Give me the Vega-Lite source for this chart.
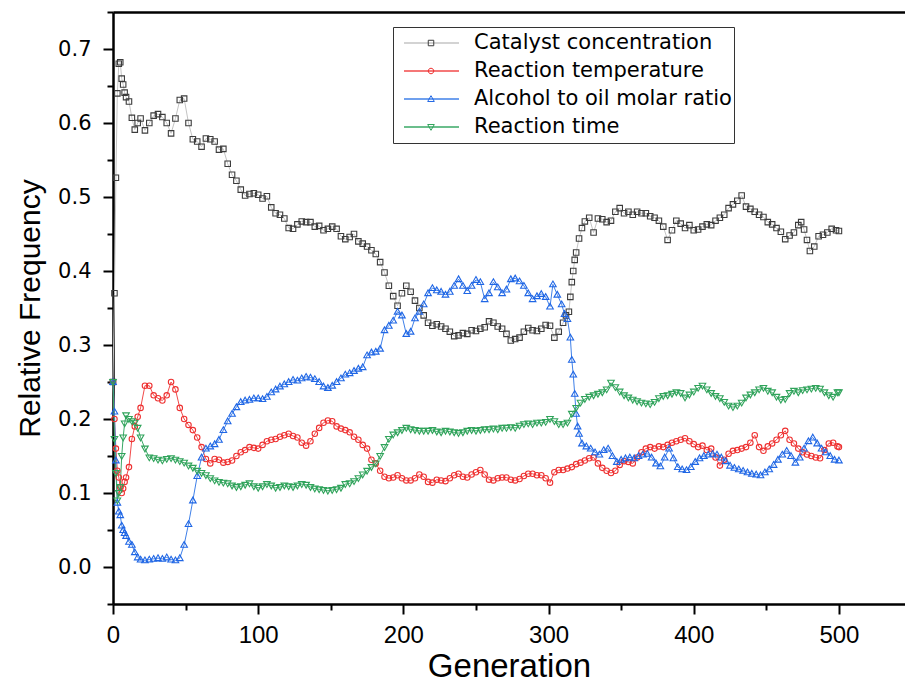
{
"$schema":"https://vega.github.io/schema/vega-lite/v6.json",
"width":792,"height":592,
"autosize":{"type":"none"},
"padding":{"left":113,"top":12,"right":0,"bottom":82},
"background":"white",
"config":{"view":{"stroke":null},"font":"Liberation Sans"},
"data":{"values":[
{"s":"C","g":0,"v":0.25},{"s":"C","g":1,"v":0.37},{"s":"C","g":2,"v":0.526},{"s":"C","g":3,"v":0.64},{"s":"C","g":4,"v":0.68},{"s":"C","g":5,"v":0.682},{"s":"C","g":6,"v":0.66},{"s":"C","g":7,"v":0.652},{"s":"C","g":8,"v":0.641},{"s":"C","g":9,"v":0.635},{"s":"C","g":11,"v":0.629},{"s":"C","g":13,"v":0.607},{"s":"C","g":15,"v":0.591},{"s":"C","g":17,"v":0.6},{"s":"C","g":19,"v":0.606},{"s":"C","g":22,"v":0.59},{"s":"C","g":25,"v":0.6},{"s":"C","g":28,"v":0.61},{"s":"C","g":31,"v":0.612},{"s":"C","g":34,"v":0.608},{"s":"C","g":37,"v":0.6},{"s":"C","g":40,"v":0.586},{"s":"C","g":43,"v":0.606},{"s":"C","g":46,"v":0.631},{"s":"C","g":49,"v":0.633},{"s":"C","g":52,"v":0.6},{"s":"C","g":55,"v":0.578},{"s":"C","g":58,"v":0.575},{"s":"C","g":61,"v":0.568},{"s":"C","g":64,"v":0.579},{"s":"C","g":67,"v":0.578},{"s":"C","g":70,"v":0.575},{"s":"C","g":73,"v":0.564},{"s":"C","g":76,"v":0.565},{"s":"C","g":79,"v":0.545},{"s":"C","g":82,"v":0.53},{"s":"C","g":85,"v":0.522},{"s":"C","g":88,"v":0.51},{"s":"C","g":91,"v":0.502},{"s":"C","g":94,"v":0.504},{"s":"C","g":97,"v":0.505},{"s":"C","g":100,"v":0.503},{"s":"C","g":103,"v":0.498},{"s":"C","g":106,"v":0.501},{"s":"C","g":109,"v":0.486},{"s":"C","g":112,"v":0.478},{"s":"C","g":115,"v":0.476},{"s":"C","g":118,"v":0.471},{"s":"C","g":121,"v":0.458},{"s":"C","g":124,"v":0.457},{"s":"C","g":127,"v":0.463},{"s":"C","g":130,"v":0.467},{"s":"C","g":133,"v":0.466},{"s":"C","g":136,"v":0.466},{"s":"C","g":139,"v":0.46},{"s":"C","g":142,"v":0.461},{"s":"C","g":145,"v":0.455},{"s":"C","g":148,"v":0.457},{"s":"C","g":151,"v":0.46},{"s":"C","g":154,"v":0.457},{"s":"C","g":157,"v":0.447},{"s":"C","g":160,"v":0.443},{"s":"C","g":163,"v":0.446},{"s":"C","g":166,"v":0.45},{"s":"C","g":169,"v":0.44},{"s":"C","g":172,"v":0.437},{"s":"C","g":175,"v":0.433},{"s":"C","g":178,"v":0.428},{"s":"C","g":181,"v":0.423},{"s":"C","g":184,"v":0.412},{"s":"C","g":187,"v":0.398},{"s":"C","g":190,"v":0.38},{"s":"C","g":193,"v":0.366},{"s":"C","g":196,"v":0.353},{"s":"C","g":199,"v":0.37},{"s":"C","g":202,"v":0.38},{"s":"C","g":205,"v":0.372},{"s":"C","g":208,"v":0.36},{"s":"C","g":211,"v":0.35},{"s":"C","g":214,"v":0.34},{"s":"C","g":217,"v":0.33},{"s":"C","g":220,"v":0.326},{"s":"C","g":223,"v":0.328},{"s":"C","g":226,"v":0.325},{"s":"C","g":229,"v":0.322},{"s":"C","g":232,"v":0.318},{"s":"C","g":235,"v":0.312},{"s":"C","g":238,"v":0.313},{"s":"C","g":241,"v":0.316},{"s":"C","g":244,"v":0.315},{"s":"C","g":247,"v":0.32},{"s":"C","g":250,"v":0.319},{"s":"C","g":253,"v":0.322},{"s":"C","g":256,"v":0.324},{"s":"C","g":259,"v":0.332},{"s":"C","g":262,"v":0.33},{"s":"C","g":265,"v":0.325},{"s":"C","g":268,"v":0.322},{"s":"C","g":271,"v":0.315},{"s":"C","g":274,"v":0.306},{"s":"C","g":277,"v":0.308},{"s":"C","g":280,"v":0.31},{"s":"C","g":283,"v":0.318},{"s":"C","g":286,"v":0.323},{"s":"C","g":289,"v":0.32},{"s":"C","g":292,"v":0.319},{"s":"C","g":295,"v":0.322},{"s":"C","g":298,"v":0.327},{"s":"C","g":301,"v":0.326},{"s":"C","g":304,"v":0.31},{"s":"C","g":307,"v":0.318},{"s":"C","g":310,"v":0.33},{"s":"C","g":312,"v":0.34},{"s":"C","g":314,"v":0.345},{"s":"C","g":315,"v":0.365},{"s":"C","g":316,"v":0.385},{"s":"C","g":317,"v":0.4},{"s":"C","g":318,"v":0.415},{"s":"C","g":319,"v":0.425},{"s":"C","g":321,"v":0.444},{"s":"C","g":323,"v":0.458},{"s":"C","g":325,"v":0.467},{"s":"C","g":328,"v":0.472},{"s":"C","g":331,"v":0.452},{"s":"C","g":334,"v":0.471},{"s":"C","g":337,"v":0.47},{"s":"C","g":340,"v":0.466},{"s":"C","g":343,"v":0.468},{"s":"C","g":346,"v":0.48},{"s":"C","g":349,"v":0.485},{"s":"C","g":352,"v":0.478},{"s":"C","g":355,"v":0.48},{"s":"C","g":358,"v":0.476},{"s":"C","g":361,"v":0.48},{"s":"C","g":364,"v":0.478},{"s":"C","g":367,"v":0.478},{"s":"C","g":370,"v":0.474},{"s":"C","g":373,"v":0.472},{"s":"C","g":376,"v":0.468},{"s":"C","g":379,"v":0.46},{"s":"C","g":382,"v":0.442},{"s":"C","g":385,"v":0.455},{"s":"C","g":388,"v":0.468},{"s":"C","g":391,"v":0.464},{"s":"C","g":394,"v":0.458},{"s":"C","g":397,"v":0.462},{"s":"C","g":400,"v":0.455},{"s":"C","g":403,"v":0.456},{"s":"C","g":406,"v":0.46},{"s":"C","g":409,"v":0.463},{"s":"C","g":412,"v":0.462},{"s":"C","g":415,"v":0.468},{"s":"C","g":418,"v":0.472},{"s":"C","g":421,"v":0.476},{"s":"C","g":424,"v":0.485},{"s":"C","g":427,"v":0.49},{"s":"C","g":430,"v":0.495},{"s":"C","g":433,"v":0.502},{"s":"C","g":436,"v":0.487},{"s":"C","g":439,"v":0.484},{"s":"C","g":442,"v":0.48},{"s":"C","g":445,"v":0.476},{"s":"C","g":448,"v":0.473},{"s":"C","g":451,"v":0.466},{"s":"C","g":454,"v":0.463},{"s":"C","g":457,"v":0.458},{"s":"C","g":460,"v":0.453},{"s":"C","g":463,"v":0.443},{"s":"C","g":466,"v":0.448},{"s":"C","g":469,"v":0.452},{"s":"C","g":472,"v":0.462},{"s":"C","g":474,"v":0.466},{"s":"C","g":476,"v":0.456},{"s":"C","g":478,"v":0.442},{"s":"C","g":480,"v":0.427},{"s":"C","g":483,"v":0.433},{"s":"C","g":486,"v":0.447},{"s":"C","g":489,"v":0.449},{"s":"C","g":492,"v":0.452},{"s":"C","g":495,"v":0.457},{"s":"C","g":498,"v":0.455},{"s":"C","g":500,"v":0.454},
{"s":"R","g":0,"v":0.25},{"s":"R","g":1,"v":0.2},{"s":"R","g":2,"v":0.16},{"s":"R","g":3,"v":0.13},{"s":"R","g":4,"v":0.121},{"s":"R","g":5,"v":0.108},{"s":"R","g":6,"v":0.1},{"s":"R","g":7,"v":0.106},{"s":"R","g":8,"v":0.115},{"s":"R","g":9,"v":0.121},{"s":"R","g":11,"v":0.135},{"s":"R","g":13,"v":0.173},{"s":"R","g":15,"v":0.19},{"s":"R","g":17,"v":0.203},{"s":"R","g":19,"v":0.215},{"s":"R","g":22,"v":0.245},{"s":"R","g":25,"v":0.245},{"s":"R","g":28,"v":0.232},{"s":"R","g":31,"v":0.228},{"s":"R","g":34,"v":0.225},{"s":"R","g":37,"v":0.232},{"s":"R","g":40,"v":0.25},{"s":"R","g":43,"v":0.24},{"s":"R","g":46,"v":0.215},{"s":"R","g":49,"v":0.2},{"s":"R","g":52,"v":0.192},{"s":"R","g":55,"v":0.185},{"s":"R","g":58,"v":0.175},{"s":"R","g":61,"v":0.162},{"s":"R","g":64,"v":0.146},{"s":"R","g":67,"v":0.14},{"s":"R","g":70,"v":0.146},{"s":"R","g":73,"v":0.145},{"s":"R","g":76,"v":0.141},{"s":"R","g":79,"v":0.142},{"s":"R","g":82,"v":0.144},{"s":"R","g":85,"v":0.15},{"s":"R","g":88,"v":0.155},{"s":"R","g":91,"v":0.158},{"s":"R","g":94,"v":0.162},{"s":"R","g":97,"v":0.161},{"s":"R","g":100,"v":0.16},{"s":"R","g":103,"v":0.165},{"s":"R","g":106,"v":0.17},{"s":"R","g":109,"v":0.172},{"s":"R","g":112,"v":0.173},{"s":"R","g":115,"v":0.176},{"s":"R","g":118,"v":0.178},{"s":"R","g":121,"v":0.18},{"s":"R","g":124,"v":0.177},{"s":"R","g":127,"v":0.175},{"s":"R","g":130,"v":0.168},{"s":"R","g":133,"v":0.164},{"s":"R","g":136,"v":0.17},{"s":"R","g":139,"v":0.18},{"s":"R","g":142,"v":0.188},{"s":"R","g":145,"v":0.195},{"s":"R","g":148,"v":0.198},{"s":"R","g":151,"v":0.197},{"s":"R","g":154,"v":0.19},{"s":"R","g":157,"v":0.187},{"s":"R","g":160,"v":0.185},{"s":"R","g":163,"v":0.182},{"s":"R","g":166,"v":0.176},{"s":"R","g":169,"v":0.172},{"s":"R","g":172,"v":0.165},{"s":"R","g":175,"v":0.16},{"s":"R","g":178,"v":0.145},{"s":"R","g":181,"v":0.14},{"s":"R","g":184,"v":0.13},{"s":"R","g":187,"v":0.122},{"s":"R","g":190,"v":0.12},{"s":"R","g":193,"v":0.121},{"s":"R","g":196,"v":0.124},{"s":"R","g":199,"v":0.12},{"s":"R","g":202,"v":0.117},{"s":"R","g":205,"v":0.117},{"s":"R","g":208,"v":0.12},{"s":"R","g":211,"v":0.125},{"s":"R","g":214,"v":0.122},{"s":"R","g":217,"v":0.115},{"s":"R","g":220,"v":0.114},{"s":"R","g":223,"v":0.118},{"s":"R","g":226,"v":0.117},{"s":"R","g":229,"v":0.116},{"s":"R","g":232,"v":0.12},{"s":"R","g":235,"v":0.124},{"s":"R","g":238,"v":0.126},{"s":"R","g":241,"v":0.122},{"s":"R","g":244,"v":0.121},{"s":"R","g":247,"v":0.125},{"s":"R","g":250,"v":0.128},{"s":"R","g":253,"v":0.131},{"s":"R","g":256,"v":0.125},{"s":"R","g":259,"v":0.118},{"s":"R","g":262,"v":0.117},{"s":"R","g":265,"v":0.12},{"s":"R","g":268,"v":0.121},{"s":"R","g":271,"v":0.121},{"s":"R","g":274,"v":0.118},{"s":"R","g":277,"v":0.117},{"s":"R","g":280,"v":0.119},{"s":"R","g":283,"v":0.123},{"s":"R","g":286,"v":0.126},{"s":"R","g":289,"v":0.126},{"s":"R","g":292,"v":0.124},{"s":"R","g":295,"v":0.124},{"s":"R","g":298,"v":0.12},{"s":"R","g":301,"v":0.114},{"s":"R","g":304,"v":0.128},{"s":"R","g":307,"v":0.131},{"s":"R","g":310,"v":0.131},{"s":"R","g":313,"v":0.133},{"s":"R","g":316,"v":0.135},{"s":"R","g":319,"v":0.139},{"s":"R","g":322,"v":0.141},{"s":"R","g":325,"v":0.144},{"s":"R","g":328,"v":0.147},{"s":"R","g":331,"v":0.148},{"s":"R","g":334,"v":0.14},{"s":"R","g":337,"v":0.134},{"s":"R","g":340,"v":0.13},{"s":"R","g":343,"v":0.127},{"s":"R","g":346,"v":0.13},{"s":"R","g":349,"v":0.138},{"s":"R","g":352,"v":0.143},{"s":"R","g":355,"v":0.142},{"s":"R","g":358,"v":0.14},{"s":"R","g":361,"v":0.148},{"s":"R","g":364,"v":0.155},{"s":"R","g":367,"v":0.16},{"s":"R","g":370,"v":0.162},{"s":"R","g":373,"v":0.16},{"s":"R","g":376,"v":0.163},{"s":"R","g":379,"v":0.162},{"s":"R","g":382,"v":0.165},{"s":"R","g":385,"v":0.168},{"s":"R","g":388,"v":0.17},{"s":"R","g":391,"v":0.172},{"s":"R","g":394,"v":0.174},{"s":"R","g":397,"v":0.17},{"s":"R","g":400,"v":0.166},{"s":"R","g":403,"v":0.162},{"s":"R","g":406,"v":0.164},{"s":"R","g":409,"v":0.158},{"s":"R","g":412,"v":0.16},{"s":"R","g":415,"v":0.148},{"s":"R","g":418,"v":0.137},{"s":"R","g":421,"v":0.145},{"s":"R","g":424,"v":0.153},{"s":"R","g":427,"v":0.157},{"s":"R","g":430,"v":0.158},{"s":"R","g":433,"v":0.16},{"s":"R","g":436,"v":0.162},{"s":"R","g":439,"v":0.168},{"s":"R","g":442,"v":0.178},{"s":"R","g":445,"v":0.162},{"s":"R","g":448,"v":0.157},{"s":"R","g":451,"v":0.163},{"s":"R","g":454,"v":0.167},{"s":"R","g":457,"v":0.172},{"s":"R","g":460,"v":0.178},{"s":"R","g":463,"v":0.184},{"s":"R","g":466,"v":0.172},{"s":"R","g":469,"v":0.167},{"s":"R","g":472,"v":0.16},{"s":"R","g":475,"v":0.155},{"s":"R","g":478,"v":0.152},{"s":"R","g":481,"v":0.15},{"s":"R","g":484,"v":0.148},{"s":"R","g":487,"v":0.147},{"s":"R","g":490,"v":0.158},{"s":"R","g":493,"v":0.167},{"s":"R","g":496,"v":0.168},{"s":"R","g":499,"v":0.163},{"s":"R","g":500,"v":0.162},
{"s":"A","g":0,"v":0.25},{"s":"A","g":1,"v":0.21},{"s":"A","g":2,"v":0.144},{"s":"A","g":3,"v":0.087},{"s":"A","g":4,"v":0.075},{"s":"A","g":5,"v":0.07},{"s":"A","g":6,"v":0.056},{"s":"A","g":7,"v":0.05},{"s":"A","g":8,"v":0.046},{"s":"A","g":9,"v":0.042},{"s":"A","g":11,"v":0.034},{"s":"A","g":13,"v":0.03},{"s":"A","g":15,"v":0.02},{"s":"A","g":17,"v":0.013},{"s":"A","g":19,"v":0.01},{"s":"A","g":22,"v":0.009},{"s":"A","g":25,"v":0.01},{"s":"A","g":28,"v":0.011},{"s":"A","g":31,"v":0.012},{"s":"A","g":34,"v":0.011},{"s":"A","g":37,"v":0.013},{"s":"A","g":40,"v":0.01},{"s":"A","g":43,"v":0.009},{"s":"A","g":46,"v":0.012},{"s":"A","g":49,"v":0.03},{"s":"A","g":52,"v":0.058},{"s":"A","g":55,"v":0.09},{"s":"A","g":58,"v":0.123},{"s":"A","g":61,"v":0.148},{"s":"A","g":64,"v":0.16},{"s":"A","g":67,"v":0.163},{"s":"A","g":70,"v":0.166},{"s":"A","g":73,"v":0.172},{"s":"A","g":76,"v":0.185},{"s":"A","g":79,"v":0.197},{"s":"A","g":82,"v":0.207},{"s":"A","g":85,"v":0.216},{"s":"A","g":88,"v":0.223},{"s":"A","g":91,"v":0.225},{"s":"A","g":94,"v":0.226},{"s":"A","g":97,"v":0.228},{"s":"A","g":100,"v":0.228},{"s":"A","g":103,"v":0.227},{"s":"A","g":106,"v":0.23},{"s":"A","g":109,"v":0.236},{"s":"A","g":112,"v":0.24},{"s":"A","g":115,"v":0.244},{"s":"A","g":118,"v":0.247},{"s":"A","g":121,"v":0.25},{"s":"A","g":124,"v":0.253},{"s":"A","g":127,"v":0.252},{"s":"A","g":130,"v":0.255},{"s":"A","g":133,"v":0.257},{"s":"A","g":136,"v":0.256},{"s":"A","g":139,"v":0.254},{"s":"A","g":142,"v":0.25},{"s":"A","g":145,"v":0.244},{"s":"A","g":148,"v":0.242},{"s":"A","g":151,"v":0.245},{"s":"A","g":154,"v":0.25},{"s":"A","g":157,"v":0.255},{"s":"A","g":160,"v":0.26},{"s":"A","g":163,"v":0.262},{"s":"A","g":166,"v":0.265},{"s":"A","g":169,"v":0.268},{"s":"A","g":172,"v":0.27},{"s":"A","g":175,"v":0.286},{"s":"A","g":178,"v":0.29},{"s":"A","g":181,"v":0.291},{"s":"A","g":184,"v":0.295},{"s":"A","g":187,"v":0.32},{"s":"A","g":190,"v":0.326},{"s":"A","g":193,"v":0.333},{"s":"A","g":196,"v":0.345},{"s":"A","g":199,"v":0.34},{"s":"A","g":202,"v":0.315},{"s":"A","g":205,"v":0.318},{"s":"A","g":208,"v":0.336},{"s":"A","g":211,"v":0.345},{"s":"A","g":214,"v":0.355},{"s":"A","g":217,"v":0.37},{"s":"A","g":220,"v":0.377},{"s":"A","g":223,"v":0.374},{"s":"A","g":226,"v":0.372},{"s":"A","g":229,"v":0.368},{"s":"A","g":232,"v":0.372},{"s":"A","g":235,"v":0.38},{"s":"A","g":238,"v":0.389},{"s":"A","g":241,"v":0.38},{"s":"A","g":244,"v":0.373},{"s":"A","g":247,"v":0.38},{"s":"A","g":250,"v":0.388},{"s":"A","g":253,"v":0.385},{"s":"A","g":256,"v":0.362},{"s":"A","g":259,"v":0.37},{"s":"A","g":262,"v":0.385},{"s":"A","g":265,"v":0.378},{"s":"A","g":268,"v":0.37},{"s":"A","g":271,"v":0.375},{"s":"A","g":274,"v":0.389},{"s":"A","g":277,"v":0.39},{"s":"A","g":280,"v":0.386},{"s":"A","g":283,"v":0.38},{"s":"A","g":286,"v":0.37},{"s":"A","g":289,"v":0.362},{"s":"A","g":292,"v":0.366},{"s":"A","g":295,"v":0.369},{"s":"A","g":298,"v":0.365},{"s":"A","g":301,"v":0.352},{"s":"A","g":303,"v":0.382},{"s":"A","g":306,"v":0.368},{"s":"A","g":309,"v":0.355},{"s":"A","g":311,"v":0.342},{"s":"A","g":313,"v":0.335},{"s":"A","g":315,"v":0.31},{"s":"A","g":316,"v":0.28},{"s":"A","g":317,"v":0.26},{"s":"A","g":318,"v":0.234},{"s":"A","g":319,"v":0.207},{"s":"A","g":320,"v":0.19},{"s":"A","g":321,"v":0.18},{"s":"A","g":323,"v":0.167},{"s":"A","g":326,"v":0.163},{"s":"A","g":329,"v":0.16},{"s":"A","g":332,"v":0.155},{"s":"A","g":335,"v":0.152},{"s":"A","g":338,"v":0.158},{"s":"A","g":341,"v":0.16},{"s":"A","g":344,"v":0.15},{"s":"A","g":347,"v":0.142},{"s":"A","g":350,"v":0.145},{"s":"A","g":353,"v":0.147},{"s":"A","g":356,"v":0.148},{"s":"A","g":359,"v":0.147},{"s":"A","g":362,"v":0.15},{"s":"A","g":365,"v":0.152},{"s":"A","g":368,"v":0.153},{"s":"A","g":371,"v":0.148},{"s":"A","g":374,"v":0.14},{"s":"A","g":377,"v":0.136},{"s":"A","g":380,"v":0.148},{"s":"A","g":383,"v":0.16},{"s":"A","g":386,"v":0.147},{"s":"A","g":389,"v":0.135},{"s":"A","g":392,"v":0.132},{"s":"A","g":395,"v":0.131},{"s":"A","g":398,"v":0.135},{"s":"A","g":401,"v":0.142},{"s":"A","g":404,"v":0.147},{"s":"A","g":407,"v":0.15},{"s":"A","g":410,"v":0.152},{"s":"A","g":413,"v":0.153},{"s":"A","g":416,"v":0.152},{"s":"A","g":419,"v":0.148},{"s":"A","g":422,"v":0.143},{"s":"A","g":425,"v":0.137},{"s":"A","g":428,"v":0.134},{"s":"A","g":431,"v":0.132},{"s":"A","g":434,"v":0.13},{"s":"A","g":437,"v":0.128},{"s":"A","g":440,"v":0.126},{"s":"A","g":443,"v":0.125},{"s":"A","g":446,"v":0.124},{"s":"A","g":449,"v":0.128},{"s":"A","g":452,"v":0.132},{"s":"A","g":455,"v":0.138},{"s":"A","g":458,"v":0.145},{"s":"A","g":461,"v":0.152},{"s":"A","g":464,"v":0.157},{"s":"A","g":467,"v":0.15},{"s":"A","g":470,"v":0.141},{"s":"A","g":473,"v":0.148},{"s":"A","g":476,"v":0.16},{"s":"A","g":479,"v":0.17},{"s":"A","g":482,"v":0.175},{"s":"A","g":485,"v":0.167},{"s":"A","g":488,"v":0.16},{"s":"A","g":491,"v":0.155},{"s":"A","g":494,"v":0.15},{"s":"A","g":497,"v":0.145},{"s":"A","g":500,"v":0.144},
{"s":"T","g":0,"v":0.25},{"s":"T","g":1,"v":0.173},{"s":"T","g":2,"v":0.127},{"s":"T","g":3,"v":0.09},{"s":"T","g":4,"v":0.1},{"s":"T","g":5,"v":0.108},{"s":"T","g":6,"v":0.15},{"s":"T","g":7,"v":0.175},{"s":"T","g":8,"v":0.194},{"s":"T","g":9,"v":0.205},{"s":"T","g":11,"v":0.2},{"s":"T","g":13,"v":0.197},{"s":"T","g":15,"v":0.195},{"s":"T","g":17,"v":0.188},{"s":"T","g":19,"v":0.175},{"s":"T","g":22,"v":0.16},{"s":"T","g":25,"v":0.148},{"s":"T","g":28,"v":0.147},{"s":"T","g":31,"v":0.145},{"s":"T","g":34,"v":0.144},{"s":"T","g":37,"v":0.146},{"s":"T","g":40,"v":0.147},{"s":"T","g":43,"v":0.145},{"s":"T","g":46,"v":0.143},{"s":"T","g":49,"v":0.141},{"s":"T","g":52,"v":0.137},{"s":"T","g":55,"v":0.134},{"s":"T","g":58,"v":0.13},{"s":"T","g":61,"v":0.127},{"s":"T","g":64,"v":0.124},{"s":"T","g":67,"v":0.12},{"s":"T","g":70,"v":0.117},{"s":"T","g":73,"v":0.115},{"s":"T","g":76,"v":0.114},{"s":"T","g":79,"v":0.113},{"s":"T","g":82,"v":0.11},{"s":"T","g":85,"v":0.108},{"s":"T","g":88,"v":0.109},{"s":"T","g":91,"v":0.111},{"s":"T","g":94,"v":0.113},{"s":"T","g":97,"v":0.109},{"s":"T","g":100,"v":0.107},{"s":"T","g":103,"v":0.109},{"s":"T","g":106,"v":0.112},{"s":"T","g":109,"v":0.11},{"s":"T","g":112,"v":0.107},{"s":"T","g":115,"v":0.108},{"s":"T","g":118,"v":0.11},{"s":"T","g":121,"v":0.109},{"s":"T","g":124,"v":0.108},{"s":"T","g":127,"v":0.11},{"s":"T","g":130,"v":0.112},{"s":"T","g":133,"v":0.111},{"s":"T","g":136,"v":0.108},{"s":"T","g":139,"v":0.106},{"s":"T","g":142,"v":0.105},{"s":"T","g":145,"v":0.104},{"s":"T","g":148,"v":0.103},{"s":"T","g":151,"v":0.104},{"s":"T","g":154,"v":0.105},{"s":"T","g":157,"v":0.107},{"s":"T","g":160,"v":0.112},{"s":"T","g":163,"v":0.113},{"s":"T","g":166,"v":0.116},{"s":"T","g":169,"v":0.12},{"s":"T","g":172,"v":0.125},{"s":"T","g":175,"v":0.13},{"s":"T","g":178,"v":0.135},{"s":"T","g":181,"v":0.14},{"s":"T","g":184,"v":0.15},{"s":"T","g":187,"v":0.162},{"s":"T","g":190,"v":0.173},{"s":"T","g":193,"v":0.179},{"s":"T","g":196,"v":0.182},{"s":"T","g":199,"v":0.185},{"s":"T","g":202,"v":0.188},{"s":"T","g":205,"v":0.186},{"s":"T","g":208,"v":0.185},{"s":"T","g":211,"v":0.184},{"s":"T","g":214,"v":0.184},{"s":"T","g":217,"v":0.184},{"s":"T","g":220,"v":0.185},{"s":"T","g":223,"v":0.183},{"s":"T","g":226,"v":0.182},{"s":"T","g":229,"v":0.184},{"s":"T","g":232,"v":0.183},{"s":"T","g":235,"v":0.182},{"s":"T","g":238,"v":0.181},{"s":"T","g":241,"v":0.182},{"s":"T","g":244,"v":0.184},{"s":"T","g":247,"v":0.185},{"s":"T","g":250,"v":0.184},{"s":"T","g":253,"v":0.185},{"s":"T","g":256,"v":0.186},{"s":"T","g":259,"v":0.186},{"s":"T","g":262,"v":0.187},{"s":"T","g":265,"v":0.186},{"s":"T","g":268,"v":0.188},{"s":"T","g":271,"v":0.188},{"s":"T","g":274,"v":0.189},{"s":"T","g":277,"v":0.188},{"s":"T","g":280,"v":0.191},{"s":"T","g":283,"v":0.193},{"s":"T","g":286,"v":0.194},{"s":"T","g":289,"v":0.193},{"s":"T","g":292,"v":0.195},{"s":"T","g":295,"v":0.195},{"s":"T","g":298,"v":0.196},{"s":"T","g":301,"v":0.2},{"s":"T","g":304,"v":0.197},{"s":"T","g":307,"v":0.193},{"s":"T","g":310,"v":0.193},{"s":"T","g":313,"v":0.195},{"s":"T","g":316,"v":0.207},{"s":"T","g":319,"v":0.215},{"s":"T","g":322,"v":0.222},{"s":"T","g":325,"v":0.227},{"s":"T","g":328,"v":0.23},{"s":"T","g":331,"v":0.232},{"s":"T","g":334,"v":0.234},{"s":"T","g":337,"v":0.236},{"s":"T","g":340,"v":0.24},{"s":"T","g":343,"v":0.249},{"s":"T","g":346,"v":0.243},{"s":"T","g":349,"v":0.237},{"s":"T","g":352,"v":0.232},{"s":"T","g":355,"v":0.229},{"s":"T","g":358,"v":0.226},{"s":"T","g":361,"v":0.224},{"s":"T","g":364,"v":0.222},{"s":"T","g":367,"v":0.221},{"s":"T","g":370,"v":0.22},{"s":"T","g":373,"v":0.223},{"s":"T","g":376,"v":0.228},{"s":"T","g":379,"v":0.231},{"s":"T","g":382,"v":0.232},{"s":"T","g":385,"v":0.234},{"s":"T","g":388,"v":0.236},{"s":"T","g":391,"v":0.235},{"s":"T","g":394,"v":0.229},{"s":"T","g":397,"v":0.233},{"s":"T","g":400,"v":0.237},{"s":"T","g":403,"v":0.242},{"s":"T","g":406,"v":0.245},{"s":"T","g":409,"v":0.24},{"s":"T","g":412,"v":0.235},{"s":"T","g":415,"v":0.231},{"s":"T","g":418,"v":0.228},{"s":"T","g":421,"v":0.223},{"s":"T","g":424,"v":0.218},{"s":"T","g":427,"v":0.216},{"s":"T","g":430,"v":0.218},{"s":"T","g":433,"v":0.222},{"s":"T","g":436,"v":0.229},{"s":"T","g":439,"v":0.233},{"s":"T","g":442,"v":0.236},{"s":"T","g":445,"v":0.24},{"s":"T","g":448,"v":0.242},{"s":"T","g":451,"v":0.238},{"s":"T","g":454,"v":0.236},{"s":"T","g":457,"v":0.23},{"s":"T","g":460,"v":0.226},{"s":"T","g":463,"v":0.227},{"s":"T","g":466,"v":0.235},{"s":"T","g":469,"v":0.238},{"s":"T","g":472,"v":0.236},{"s":"T","g":475,"v":0.239},{"s":"T","g":478,"v":0.24},{"s":"T","g":481,"v":0.241},{"s":"T","g":484,"v":0.242},{"s":"T","g":487,"v":0.241},{"s":"T","g":490,"v":0.236},{"s":"T","g":493,"v":0.232},{"s":"T","g":496,"v":0.23},{"s":"T","g":499,"v":0.236},{"s":"T","g":500,"v":0.236}
]},
"layer":[
{"mark":{"type":"line","strokeWidth":1},
 "encoding":{
  "x":{"field":"g","type":"quantitative","scale":{"domain":[0,545.5],"nice":false,"zero":false},
   "axis":{"orient":"bottom","values":[0,100,200,300,400,500],"title":"Generation","titleFont":"Liberation Sans","titleFontSize":33,"titleFontWeight":"normal","titleColor":"black","titlePadding":3,"labelFont":"Liberation Sans","labelFontSize":24,"labelColor":"black","labelPadding":9,"tickSize":10,"tickWidth":2,"tickColor":"black","domainColor":"black","domainWidth":2.5,"grid":false,"labelFlush":false,"labelOverlap":false}},
  "y":{"field":"v","type":"quantitative","scale":{"domain":[-0.05,0.75],"nice":false,"zero":false},
   "axis":{"orient":"left","values":[0,0.1,0.2,0.3,0.4,0.5,0.6,0.7],"format":".1f","title":"Relative Frequency","titleFont":"Liberation Sans","titleFontSize":30,"titleFontWeight":"normal","titleColor":"black","titlePadding":12,"labelFont":"DejaVu Sans","labelFontSize":21,"labelColor":"black","labelPadding":12,"tickSize":10,"tickWidth":2,"tickColor":"black","domainColor":"black","domainWidth":2.5,"grid":false,"labelOverlap":false}},
  "color":{"field":"s","type":"nominal","scale":{"domain":["C","R","A","T","Z"],"range":["#c4c4c4","#f24a4a","#3f80e8","#3aa866","#ffffff"]},
   "legend":{"orient":"none","legendX":280,"legendY":15,"title":null,"values":["C","R","A","T"],"labelExpr":"datum.label == 'C' ? 'Catalyst concentration' : datum.label == 'R' ? 'Reaction temperature' : datum.label == 'A' ? 'Alcohol to oil molar ratio' : 'Reaction time'","labelFont":"DejaVu Sans","labelFontSize":21,"labelLimit":500,"labelOpacity":0,"symbolType":"M-1,0H1","symbolSize":3025,"symbolStrokeWidth":1.5,"clipHeight":28,"padding":2,"symbolOffset":8,"labelOffset":15,"rowPadding":0}}
 }},
{"mark":{"type":"point","filled":false,"strokeWidth":1.1,"size":3000,"opacity":1},
 "encoding":{
  "x":{"field":"g","type":"quantitative","axis":{"orient":"bottom","values":[50,150,250,350,450],"labels":false,"domain":false,"title":null,"tickSize":6,"tickWidth":2,"tickColor":"black","grid":false}},
  "y":{"field":"v","type":"quantitative","axis":{"orient":"left","values":[-0.05,0.05,0.15,0.25,0.35,0.45,0.55,0.65,0.75],"labels":false,"domain":false,"title":null,"tickSize":6,"tickWidth":2,"tickColor":"black","grid":false}},
  "stroke":{"field":"s","type":"nominal","scale":{"domain":["C","R","A","T"],"range":["#3c3c3c","#ee3030","#1f66e5","#2fa35a"]},
   "legend":{"orient":"none","legendX":280,"legendY":15,"title":null,"labelExpr":"datum.label == 'C' ? 'Catalyst concentration' : datum.label == 'R' ? 'Reaction temperature' : datum.label == 'A' ? 'Alcohol to oil molar ratio' : 'Reaction time'","labelFont":"DejaVu Sans","labelFontSize":21,"labelLimit":500,"labelColor":"black","symbolSize":3025,"symbolStrokeWidth":1,"clipHeight":28,"padding":2,"symbolOffset":8,"labelOffset":15,"rowPadding":0,"strokeColor":"#333333"}},
  "shape":{"field":"s","type":"nominal","scale":{"domain":["C","R","A","T"],"range":["M-0.1,-0.1H0.1V0.1H-0.1Z","M-0.1,0A0.1,0.1,0,1,1,0.1,0A0.1,0.1,0,1,1,-0.1,0Z","M0,-0.12L0.12,0.09L-0.12,0.09Z","M0,0.12L0.12,-0.09L-0.12,-0.09Z"]},
   "legend":{"orient":"none","legendX":280,"legendY":15,"title":null,"labelExpr":"datum.label == 'C' ? 'Catalyst concentration' : datum.label == 'R' ? 'Reaction temperature' : datum.label == 'A' ? 'Alcohol to oil molar ratio' : 'Reaction time'","labelFont":"DejaVu Sans","labelFontSize":21,"labelLimit":500,"labelColor":"black","symbolSize":3025,"symbolStrokeWidth":1,"clipHeight":28,"padding":2,"symbolOffset":8,"labelOffset":15,"rowPadding":0,"strokeColor":"#333333"}}
 }},
{"mark":{"type":"point","opacity":0},
 "encoding":{
  "x":{"field":"g","type":"quantitative","axis":{"orient":"top","labels":false,"ticks":false,"domain":true,"domainColor":"black","domainWidth":2.5,"title":null,"grid":false}},
  "y":{"field":"v","type":"quantitative","axis":null}
 }}
],
"resolve":{"axis":{"x":"independent","y":"independent"}}
}
